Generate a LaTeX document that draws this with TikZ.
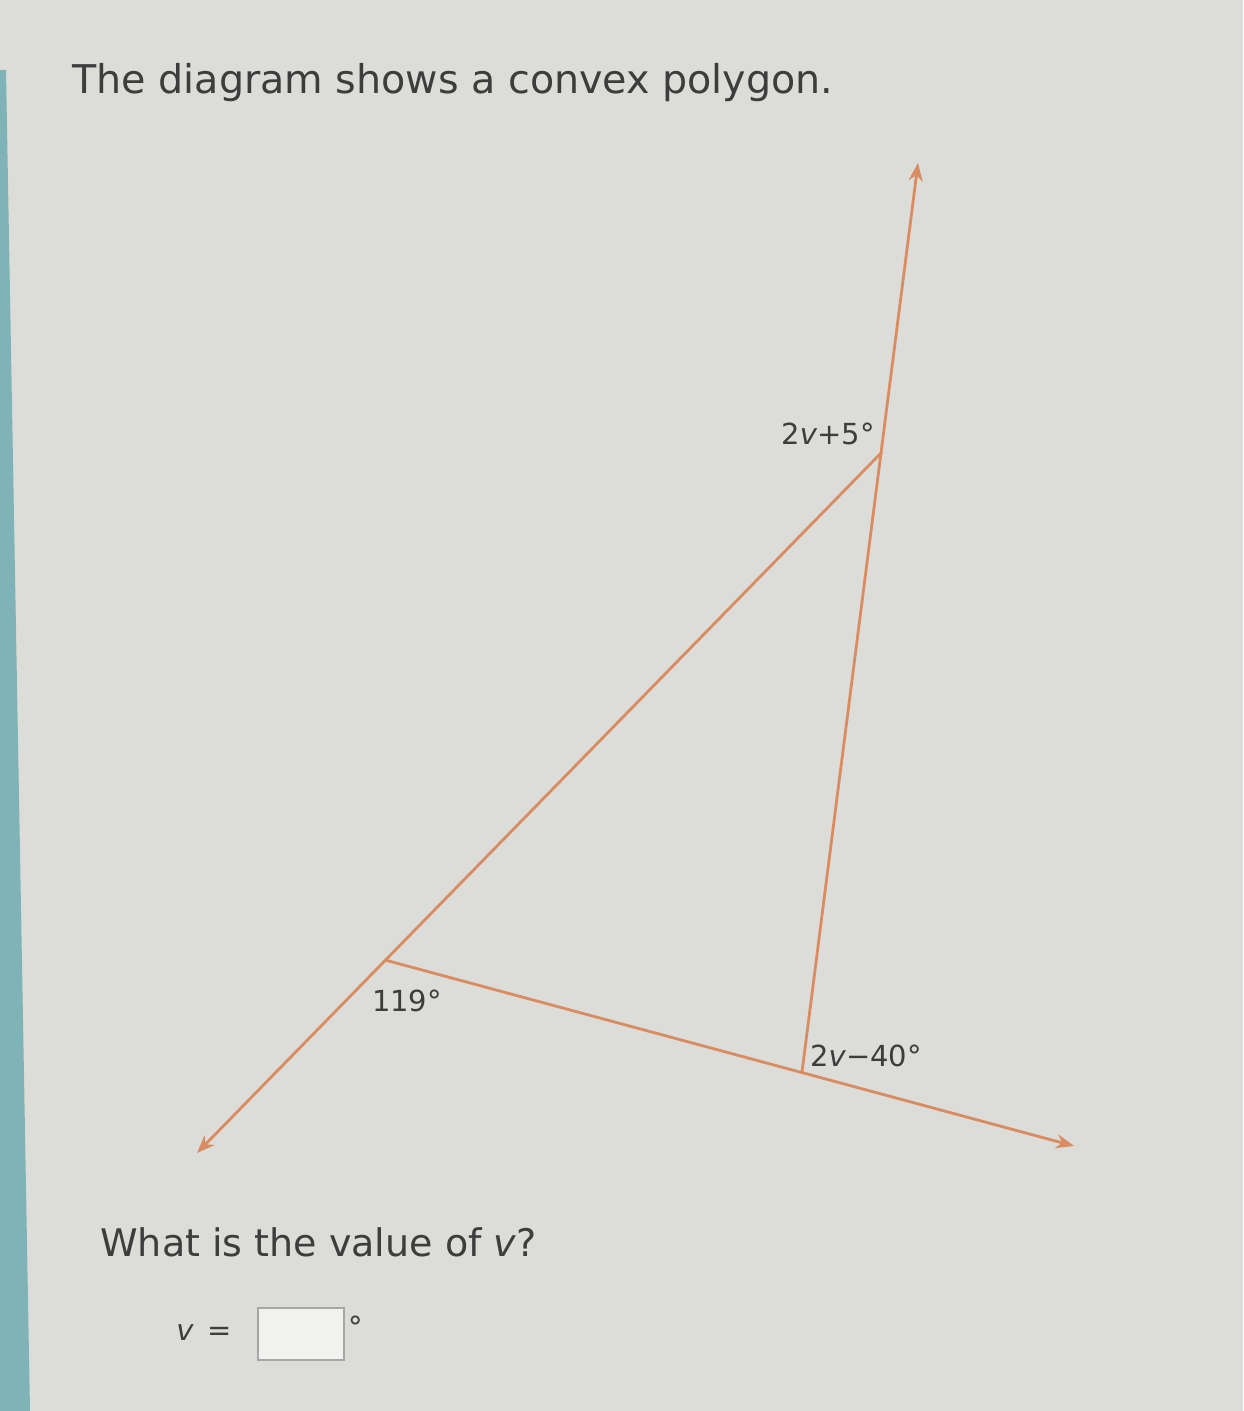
\documentclass[tikz,border=0pt]{standalone}
\usepackage{fontspec}
\setmainfont{DejaVu Sans}
\usetikzlibrary{arrows.meta}
\definecolor{bg}{HTML}{DCDDD8}
\definecolor{ray}{HTML}{D98C62}
\definecolor{ink}{HTML}{3C3D3D}
\definecolor{teal}{HTML}{7FB3B8}
\tikzset{
  rayline/.style={draw=ray, line width=1.4pt},
  rayarrow/.style={rayline, -{Stealth[length=9pt,width=7pt]}},
  anglabel/.style={text=ink, font=\fontsize{14.5}{17}\selectfont, inner sep=0pt},
  bigtext/.style={text=ink, font=\fontsize{19.8}{24}\selectfont, inner sep=0pt, anchor=base west},
}
\begin{document}
\begin{tikzpicture}[x=0.5pt,y=-0.5pt]
\useasboundingbox (0,0) rectangle (1243,1411);
\fill[bg] (0,0) rectangle (1243,1411);
\fill[teal] (0,70) -- (6,70) -- (30,1411) -- (0,1411) -- cycle;
\node[bigtext] (title) at (72,94) {The diagram shows a convex polygon.};
% vertices
\coordinate (A) at (385,960);
\coordinate (B) at (882,452);
\coordinate (C) at (802,1072);
\coordinate (Btop) at (918,163);
\coordinate (Aend) at (197,1153);
\coordinate (Cend) at (1074,1146);
\draw[rayarrow] (C) -- (Btop);
\draw[rayarrow] (B) -- (Aend);
\draw[rayarrow] (A) -- (Cend);
\node[anglabel] (lb) at (828,434) {2\textit{v}+5°};
\node[anglabel] (la) at (407,1001) {119°};
\node[anglabel] (lc) at (866,1056) {2\textit{v}−40°};
\node[bigtext, font=\fontsize{19}{23}\selectfont] (q) at (100,1256) {What is the value of \textit{v}?};
\node[anglabel, anchor=base west] (veq) at (176,1340) {\textit{v} \,=};
\node[draw=gray!70, fill=white!60!bg, line width=0.8pt, minimum width=43pt, minimum height=26pt, inner sep=0pt] (box) at (301,1334) {};
\node[anglabel] (deg) at (356,1327) {°};
\end{tikzpicture}
\end{document}
